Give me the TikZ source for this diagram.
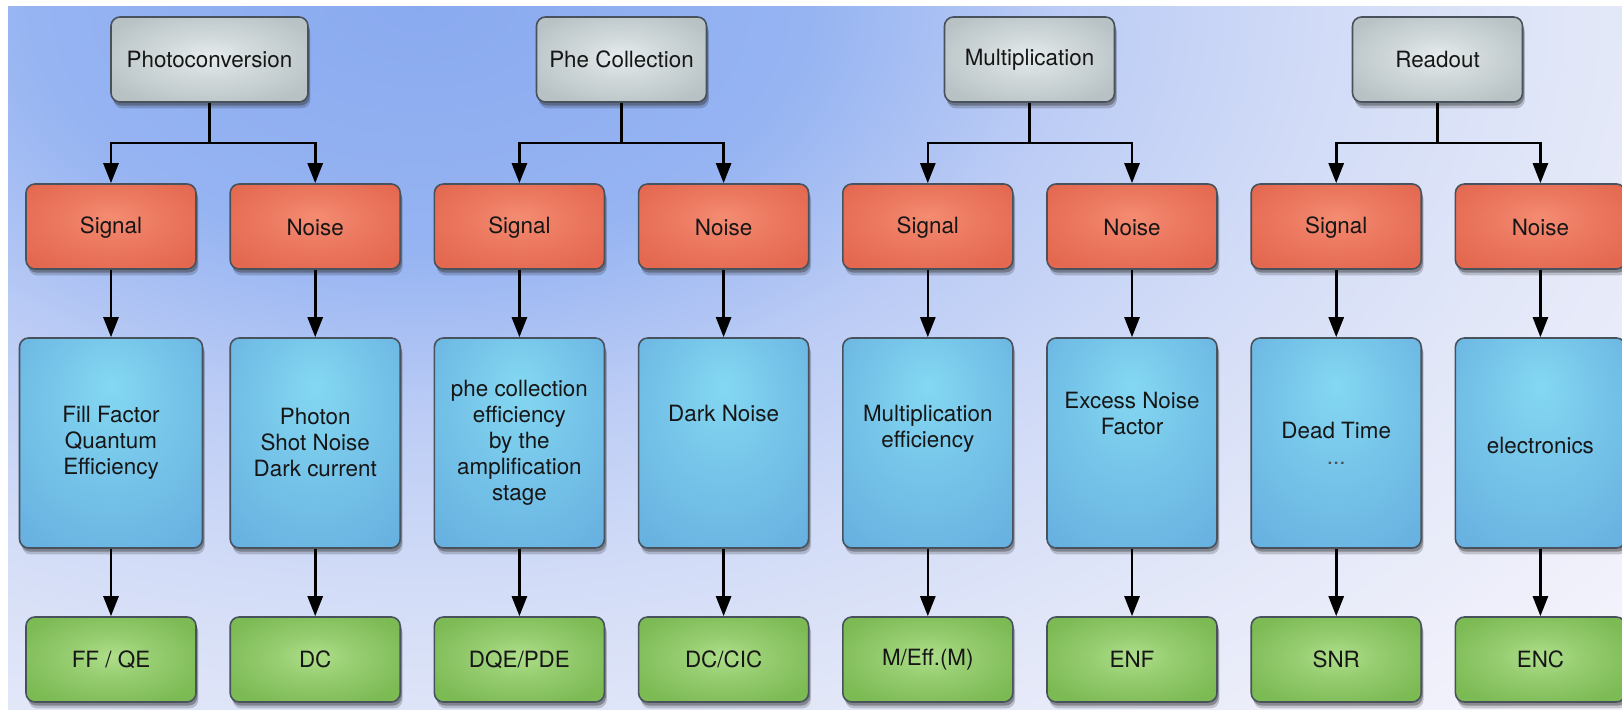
\documentclass[tikz,border=0pt]{standalone}
\usepackage{fontspec}
\setmainfont{TeX Gyre Heros}
\usetikzlibrary{arrows.meta,shadows}

% palette
\definecolor{bgA}{RGB}{138,170,240}
\definecolor{bgB}{RGB}{150,180,242}
\definecolor{bgC}{RGB}{188,204,245}
\definecolor{bgD}{RGB}{210,220,247}
\definecolor{bgE}{RGB}{226,231,248}
\definecolor{bgF}{RGB}{238,239,250}
\definecolor{bgG}{RGB}{243,243,251}
\definecolor{edge}{RGB}{72,82,92}
\definecolor{ink}{RGB}{22,22,22}
\definecolor{grayIn}{RGB}{230,236,238}
\definecolor{grayOut}{RGB}{184,194,196}
\definecolor{redIn}{RGB}{244,140,114}
\definecolor{redOut}{RGB}{228,104,80}
\definecolor{blueIn}{RGB}{132,216,242}
\definecolor{blueOut}{RGB}{100,172,222}
\definecolor{greenIn}{RGB}{174,222,138}
\definecolor{greenOut}{RGB}{124,186,84}

% TikZ fits the central 50bp x 50bp square of a shading to the path,
% so radii below are measured against a half size of 25bp.
\pgfdeclareradialshading{bgshade}{\pgfpoint{0bp}{0bp}}{%
  color(0bp)=(bgA); color(6.25bp)=(bgB); color(10.4bp)=(bgC);
  color(14.6bp)=(bgD); color(18.75bp)=(bgE); color(22.9bp)=(bgF);
  color(25bp)=(bgG); color(50bp)=(bgG)}
\pgfdeclareradialshading{glowgray}{\pgfpoint{0bp}{2bp}}{%
  color(0bp)=(grayIn); color(12bp)=(grayIn!55!grayOut);
  color(30bp)=(grayOut); color(50bp)=(grayOut)}
\pgfdeclareradialshading{glowred}{\pgfpoint{0bp}{6bp}}{%
  color(0bp)=(redIn); color(14bp)=(redIn!50!redOut);
  color(32bp)=(redOut); color(50bp)=(redOut)}
\pgfdeclareradialshading{glowblue}{\pgfpoint{0bp}{14bp}}{%
  color(0bp)=(blueIn); color(18bp)=(blueIn!55!blueOut);
  color(42bp)=(blueOut); color(60bp)=(blueOut)}
\pgfdeclareradialshading{glowgreen}{\pgfpoint{0bp}{2bp}}{%
  color(0bp)=(greenIn); color(13bp)=(greenIn!50!greenOut);
  color(30bp)=(greenOut); color(50bp)=(greenOut)}

\begin{document}
\begin{tikzpicture}[x=0.5pt,y=-0.5pt,
  box/.style={draw=edge, line width=0.8pt, rounded corners=4.5pt,
    align=center, text=ink, inner sep=0pt,
    font=\fontsize{11.2}{13}\selectfont,
    drop shadow={shadow xshift=1.2pt, shadow yshift=-3.2pt, opacity=0.18, fill=black},
    drop shadow={shadow xshift=0.8pt, shadow yshift=-1.8pt, opacity=0.4, fill=black!80}},
  head/.style={box, shading=glowgray, minimum width=85pt, minimum height=42.5pt},
  part/.style={box, shading=glowred, minimum width=85pt, minimum height=42.5pt,
    execute at begin node=\rule{0pt}{9.6pt}},
  cause/.style={box, shading=glowblue, minimum width=85pt, minimum height=105pt,
    execute at begin node=\rule{0pt}{11pt}},
  figure/.style={box, shading=glowgreen, minimum width=85pt, minimum height=42.5pt},
  wire/.style={line width=1.3pt, draw=black},
  arr/.style={wire, -{Triangle[length=10pt,width=7.5pt]}}]

\useasboundingbox (0,0) rectangle (1622,710);
\fill[white] (0,0) rectangle (1622,710);
\begin{scope}
  \clip (8,7) rectangle (1622,710);
  \fill[bgG] (8,7) rectangle (1622,710);
  \shade[shading=bgshade] (420,0) ellipse [x radius=780pt, y radius=500pt];
\end{scope}

% stage headers
\node[head, minimum width=98.5pt] (h1) at (209.5,59.5) {Photoconversion};
\node[head] (h2) at (621.5,59.5) {Phe Collection};
\node[head] (h3) at (1029.5,59.5) {Multiplication};
\node[head] (h4) at (1437.5,59.5) {Readout};

% signal / noise split
\node[part] (s1) at (111,226.5)    {Signal};
\node[part] (n1) at (315.2,226.5)  {Noise};
\node[part] (s2) at (519.4,226.5)  {Signal};
\node[part] (n2) at (723.6,226.5)  {Noise};
\node[part] (s3) at (927.8,226.5)  {Signal};
\node[part] (n3) at (1132,226.5)   {Noise};
\node[part] (s4) at (1336.2,226.5) {Signal};
\node[part] (n4) at (1540.4,226.5) {Noise};

% contributing effects
\node[cause, minimum width=91.5pt] (e1) at (111,443) {Fill Factor\\Quantum\\Efficiency};
\node[cause] (e2) at (315.2,443)  {Photon\\Shot Noise\\Dark current};
\node[cause] (e3) at (519.4,443)  {phe collection\\efficiency\\by the\\amplification\\stage};
\node[cause] (e4) at (723.6,443)  {Dark Noise\\\strut\\\strut};
\node[cause] (e5) at (927.8,443)  {Multiplication\\efficiency\\\strut};
\node[cause] (e6) at (1132,443)   {Excess Noise\\Factor\\\strut\\\strut};
\node[cause] (e7) at (1336.2,443) {Dead Time\\{\color{ink!75}...}};
\node[cause] (e8) at (1540.4,443) {electronics};

% figures of merit
\node[figure] (f1) at (111,659.5)    {FF / QE};
\node[figure] (f2) at (315.2,659.5)  {DC};
\node[figure] (f3) at (519.4,659.5)  {DQE/PDE};
\node[figure] (f4) at (723.6,659.5)  {DC/CIC};
\node[figure] (f5) at (927.8,659.5)  {M/Eff.(M)};
\node[figure] (f6) at (1132,659.5)   {ENF};
\node[figure] (f7) at (1336.2,659.5) {SNR};
\node[figure] (f8) at (1540.4,659.5) {ENC};

% branch points below the headers
\coordinate (j1) at (209.5,143);
\coordinate (j2) at (621.5,143);
\coordinate (j3) at (1029.5,143);
\coordinate (j4) at (1437.5,143);

\foreach \i in {1,...,4} {
  \draw[wire] (h\i.south) -- (j\i);
  \draw[arr] (j\i) -| (s\i.north);
  \draw[arr] (j\i) -| (n\i.north);
}

\foreach \a/\b/\c in {s1/e1/f1, n1/e2/f2, s2/e3/f3, n2/e4/f4,
                      s3/e5/f5, n3/e6/f6, s4/e7/f7, n4/e8/f8} {
  \draw[arr] (\a.south) -- (\b.north);
  \draw[arr] (\b.south) -- (\c.north);
}
\end{tikzpicture}
\end{document}
